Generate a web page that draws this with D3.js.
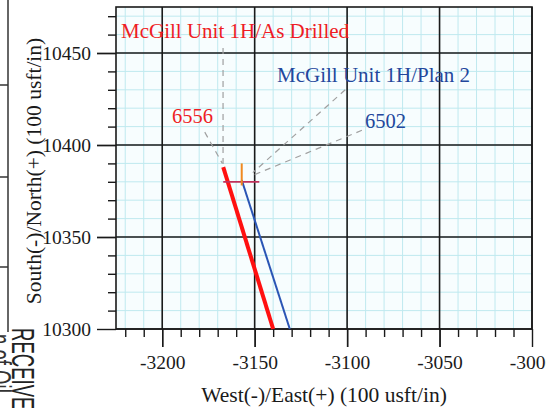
<!DOCTYPE html>
<html><head><meta charset="utf-8">
<script src="https://cdn.jsdelivr.net/npm/d3@7"></script>
<style>
html,body{margin:0;padding:0;background:#fff;}
svg{display:block;font-family:"Liberation Serif","Times New Roman",serif;}
</style></head>
<body>
<script>
// ---- data ----
const xDomain = [-3225, -3000];
const yDomain = [10300, 10475];
const xMajorTicks = [-3200, -3150, -3100, -3050, -3000];
const yMajorTicks = [10300, 10350, 10400, 10450];
const xTickLabels = ["-3200", "-3150", "-3100", "-3050", "-3000"];
const yTickLabels = ["10300", "10350", "10400", "10450"];
// As Drilled (East, North)
const drilledEast = [-3167, -3140];
const drilledNorth = [10388, 10300];
// Plan 2 (East, North)
const planEast = [-3157, -3131];
const planNorth = [10381, 10300];
// target marker of Plan 2
const markerEast = [-3167, -3147.5];
const markerNorth = [10380, 10380];
const markerVEast = [-3157, -3157];
const markerVNorth = [10378, 10390];
// annotation labels
const labelTexts = ["McGill Unit 1H/As Drilled", "McGill Unit 1H/Plan 2", "6556", "6502"];
const labelEast = [-3222.3, -3137.9, -3194.7, -3090.3];
const labelNorth = [10458.2, 10434.2, 10412, 10409.2];
const labelSeries = ["drilled", "plan", "drilled", "plan"];
// leader lines [east1, north1, east2, north2]
const leaders = [
  [-3167.1, 10452.7, -3167.1, 10388],
  [-3177, 10407, -3167.5, 10390],
  [-3101, 10430, -3151, 10385],
  [-3092, 10408, -3151, 10383.5]
];
const xTitle = "West(-)/East(+) (100 usft/in)";
const yTitle = "South(-)/North(+) (100 usft/in)";

// ---- drawing ----
const W = 546, H = 408;
const colors = {drilled: "#ee1c24", plan: "#23479c"};
const svg = d3.select("body").append("svg").attr("width", W).attr("height", H);
const x = d3.scaleLinear().domain(xDomain).range([116, 532]);
const y = d3.scaleLinear().domain(yDomain).range([329, 7]);

// scanned-page artifacts on the left
const art = svg.append("g").attr("stroke", "#333").attr("stroke-width", 1.5);
art.append("line").attr("x1", 8).attr("x2", 8).attr("y1", 0).attr("y2", 332);
[85, 177, 267].forEach(v => art.append("line").attr("x1", 0).attr("x2", 8).attr("y1", v).attr("y2", v));
svg.append("text").attr("transform", "translate(12,328) rotate(90) scale(0.58,1)")
  .attr("font-family", "Liberation Sans, Arial, sans-serif").attr("font-size", 32)
  .attr("fill", "#222").text("RECEIVED");
svg.append("text").attr("transform", "translate(-11,334) rotate(90) scale(0.58,1)")
  .attr("font-family", "Liberation Sans, Arial, sans-serif").attr("font-size", 32)
  .attr("fill", "#333").text("n of Oil");

// plot background
svg.append("rect").attr("x", x(xDomain[0])).attr("y", y(yDomain[1]))
  .attr("width", x(xDomain[1]) - x(xDomain[0])).attr("height", y(yDomain[0]) - y(yDomain[1]))
  .attr("fill", "#f7fdfe");

// minor grid every 10
const xMinor = d3.range(-3220, -3000, 10);
const yMinor = d3.range(10310, 10475, 10);
const grid = svg.append("g").attr("stroke", "#bfe9ef").attr("stroke-width", 1);
xMinor.forEach(v => grid.append("line").attr("x1", x(v)).attr("x2", x(v)).attr("y1", y(yDomain[0])).attr("y2", y(yDomain[1])));
yMinor.forEach(v => grid.append("line").attr("y1", y(v)).attr("y2", y(v)).attr("x1", x(xDomain[0])).attr("x2", x(xDomain[1])));

// major grid
const maj = svg.append("g").attr("stroke", "#1a1a1a").attr("stroke-width", 1.6);
xMajorTicks.forEach(v => maj.append("line").attr("x1", x(v)).attr("x2", x(v)).attr("y1", y(yDomain[0])).attr("y2", y(yDomain[1])));
yMajorTicks.forEach(v => maj.append("line").attr("y1", y(v)).attr("y2", y(v)).attr("x1", x(xDomain[0])).attr("x2", x(xDomain[1])));

// border
svg.append("rect").attr("x", x(xDomain[0])).attr("y", y(yDomain[1]))
  .attr("width", x(xDomain[1]) - x(xDomain[0])).attr("height", y(yDomain[0]) - y(yDomain[1]))
  .attr("fill", "none").attr("stroke", "#1a1a1a").attr("stroke-width", 1.6);

// axes
const xAxis = d3.axisBottom(x).tickValues(xMinor.concat(xMajorTicks)).tickFormat("")
  .tickSize(8).tickSizeOuter(0);
const gx = svg.append("g").attr("transform", `translate(0,${y(yDomain[0])})`).call(xAxis);
gx.select(".domain").remove();
gx.selectAll(".tick line").attr("stroke", "#1a1a1a").attr("stroke-width", 1.4)
  .attr("y2", d => xMajorTicks.includes(d) ? 18 : 8);
const gx2 = svg.append("g").attr("transform", `translate(0,${y(yDomain[0])})`)
  .call(d3.axisBottom(x).tickValues(xMajorTicks).tickFormat((d, i) => xTickLabels[i]).tickSize(0).tickPadding(26));
gx2.select(".domain").remove();
gx2.selectAll("text").attr("font-family", "Liberation Serif, serif").attr("font-size", 19.5).attr("fill", "#1a1a1a");

const yAxis = d3.axisLeft(y).tickValues(yMinor.concat(yMajorTicks)).tickFormat("").tickSize(8).tickSizeOuter(0);
const gy = svg.append("g").attr("transform", `translate(${x(xDomain[0])},0)`).call(yAxis);
gy.select(".domain").remove();
gy.selectAll(".tick line").attr("stroke", "#1a1a1a").attr("stroke-width", 1.4)
  .attr("x2", d => yMajorTicks.includes(d) ? -19 : -8);
const gy2 = svg.append("g").attr("transform", `translate(${x(xDomain[0])},0)`)
  .call(d3.axisLeft(y).tickValues(yMajorTicks).tickFormat((d, i) => yTickLabels[i]).tickSize(0).tickPadding(25));
gy2.select(".domain").remove();
gy2.selectAll("text").attr("font-family", "Liberation Serif, serif").attr("font-size", 19.5).attr("fill", "#1a1a1a");

// titles
svg.append("text").attr("x", 324).attr("y", 402).attr("text-anchor", "middle")
  .attr("font-size", 21.5).attr("fill", "#1a1a1a").text(xTitle);
svg.append("text").attr("transform", "translate(41,171) rotate(-90)").attr("text-anchor", "middle")
  .attr("font-size", 21.5).attr("fill", "#1a1a1a").text(yTitle);

// leader lines
leaders.forEach(l => svg.append("line").attr("x1", x(l[0])).attr("y1", y(l[1]))
  .attr("x2", x(l[2])).attr("y2", y(l[3])).attr("stroke", "#a0a0a0").attr("stroke-width", 1.2)
  .attr("stroke-dasharray", "6,5"));

// well paths
const line = d3.line().x(d => x(d[0])).y(d => y(d[1]));
svg.append("path").datum(planEast.map((e, i) => [e, planNorth[i]])).attr("d", line)
  .attr("fill", "none").attr("stroke", "#2a55b5").attr("stroke-width", 2);
svg.append("path").datum(drilledEast.map((e, i) => [e, drilledNorth[i]])).attr("d", line)
  .attr("fill", "none").attr("stroke", "#ff1010").attr("stroke-width", 4);
svg.append("path").datum(markerEast.map((e, i) => [e, markerNorth[i]])).attr("d", line)
  .attr("fill", "none").attr("stroke", "#c0305a").attr("stroke-width", 1.8);
svg.append("path").datum(markerVEast.map((e, i) => [e, markerVNorth[i]])).attr("d", line)
  .attr("fill", "none").attr("stroke", "#f08a20").attr("stroke-width", 2);

// labels
labelTexts.forEach((t, i) => svg.append("text").attr("x", x(labelEast[i])).attr("y", y(labelNorth[i]))
  .attr("font-size", i < 2 ? 21 : 20.5).attr("fill", colors[labelSeries[i]]).text(t));
</script>
</body></html>
